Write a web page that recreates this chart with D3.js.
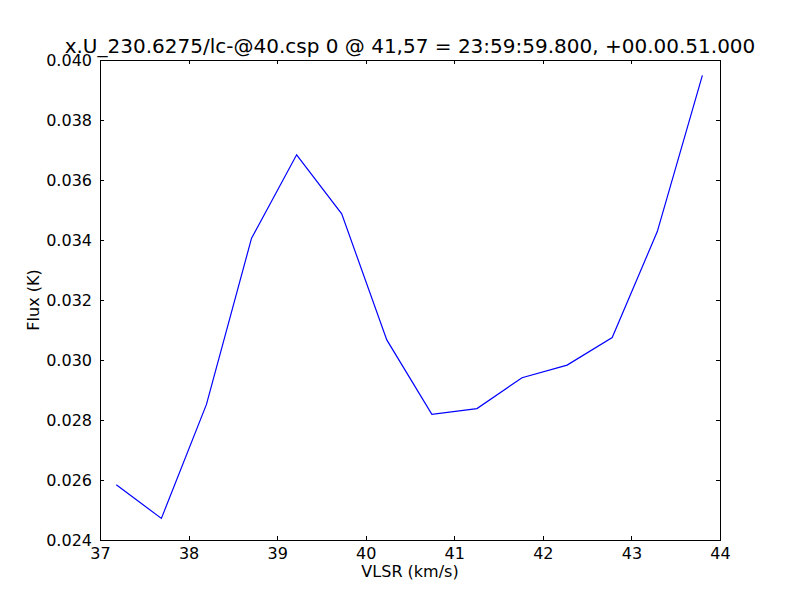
<!DOCTYPE html>
<html><head><meta charset="utf-8">
<script src="https://cdn.jsdelivr.net/npm/d3@7"></script>
<style>body{margin:0;background:#fff}svg{display:block}</style>
</head><body>
<svg id="c" width="800" height="600"></svg>
<script>
const velocity = [37.184, 37.693, 38.202, 38.711, 39.220, 39.729, 40.238, 40.747, 41.256, 41.765, 42.274, 42.783, 43.292, 43.801];
const flux = [0.02584, 0.02472, 0.02852, 0.03406, 0.03684, 0.03487, 0.03067, 0.02819, 0.02838, 0.02941, 0.02983, 0.03075, 0.03428, 0.03949];
const xTicks = [37, 38, 39, 40, 41, 42, 43, 44];
const yTicks = [0.024, 0.026, 0.028, 0.030, 0.032, 0.034, 0.036, 0.038, 0.040];
const titleText = "x.U_230.6275/lc-@40.csp 0 @ 41,57 = 23:59:59.800, +00.00.51.000";

const L = 100, R = 720, T = 60, B = 540;
const svg = d3.select("#c");
const font = "DejaVu Sans, sans-serif";
const x = d3.scaleLinear().domain([37, 44]).range([L, R]);
const y = d3.scaleLinear().domain([0.024, 0.040]).range([B, T]);

svg.append("rect").attr("x", 0).attr("y", 0).attr("width", 800).attr("height", 600).attr("fill", "#fff");

function styleAxis(g){
  g.select(".domain").remove();
  g.selectAll("line").attr("stroke", "#000").attr("stroke-width", 1).attr("shape-rendering", "crispEdges");
  g.selectAll("text").attr("font-family", font).attr("font-size", 16).attr("fill", "#000");
}
const fmt = d3.format(".3f");
svg.append("g").attr("transform", `translate(0,${B})`)
  .call(d3.axisBottom(x).tickValues(xTicks).tickSizeInner(-4).tickSizeOuter(0).tickPadding(8).tickFormat(d3.format("d")))
  .call(styleAxis);
svg.append("g").attr("transform", `translate(0,${T})`)
  .call(d3.axisTop(x).tickValues(xTicks).tickSizeInner(-4).tickSizeOuter(0).tickFormat(""))
  .call(styleAxis);
svg.append("g").attr("transform", `translate(${L},0)`)
  .call(d3.axisLeft(y).tickValues(yTicks).tickSizeInner(-4).tickSizeOuter(0).tickPadding(8).tickFormat(fmt))
  .call(styleAxis);
svg.append("g").attr("transform", `translate(${R},0)`)
  .call(d3.axisRight(y).tickValues(yTicks).tickSizeInner(-4).tickSizeOuter(0).tickFormat(""))
  .call(styleAxis);

svg.append("path").datum(velocity.map((v,i)=>[v, flux[i]]))
  .attr("fill", "none").attr("stroke", "#0000ff").attr("stroke-width", 1.2)
  .attr("d", d3.line().x(d=>x(d[0])).y(d=>y(d[1])));

svg.append("rect").attr("x", L + 0.5).attr("y", T + 0.5).attr("width", R - L).attr("height", B - T)
  .attr("fill", "none").attr("stroke", "#000").attr("stroke-width", 1).attr("shape-rendering", "crispEdges");

svg.append("text").attr("x", (L + R) / 2).attr("y", 53).attr("text-anchor", "middle")
  .attr("font-family", font).attr("font-size", 20).text(titleText);
svg.append("text").attr("x", (L + R) / 2).attr("y", 577).attr("text-anchor", "middle")
  .attr("font-family", font).attr("font-size", 16).text("VLSR (km/s)");
svg.append("text").attr("transform", `translate(39,${(T + B) / 2}) rotate(-90)`).attr("text-anchor", "middle")
  .attr("font-family", font).attr("font-size", 16).text("Flux (K)");
</script>
</body></html>
